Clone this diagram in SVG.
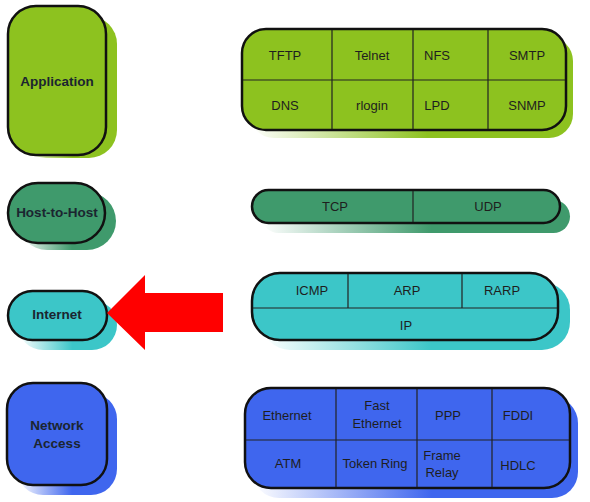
<svg xmlns="http://www.w3.org/2000/svg" width="590" height="502" viewBox="0 0 590 502">
<style>
.box{stroke:#111;stroke-width:2.5}
.div{stroke:#222;stroke-width:1.2;fill:none}
.lbl{font-family:"Liberation Sans",Arial,sans-serif;font-weight:bold;font-size:13.5px;fill:#1b2530;text-anchor:middle}
.p{font-family:"Liberation Sans",Arial,sans-serif;font-size:13px;fill:#1e1e1e;text-anchor:middle}
.g{fill:#8dc21f}.dg{fill:#3f9a6c}.t{fill:#3cc6c8}.b{fill:#3f66ee}
</style>
<defs>
<linearGradient id="sg" x1="0" y1="0" x2="1" y2="0"><stop offset="0" stop-color="#ffffff"/><stop offset="0.55" stop-color="#8dc21f"/></linearGradient>
<linearGradient id="sdg" x1="0" y1="0" x2="1" y2="0"><stop offset="0" stop-color="#ffffff"/><stop offset="0.55" stop-color="#3f9a6c"/></linearGradient>
<linearGradient id="st" x1="0" y1="0" x2="1" y2="0"><stop offset="0" stop-color="#ffffff"/><stop offset="0.55" stop-color="#3cc6c8"/></linearGradient>
<linearGradient id="sb" x1="0" y1="0" x2="1" y2="0"><stop offset="0" stop-color="#ffffff"/><stop offset="0.55" stop-color="#3f66ee"/></linearGradient>
</defs>
<rect width="590" height="502" fill="#ffffff"/>

<g id="application">
<rect x="18" y="16" width="99" height="142" rx="28" fill="url(#sg)"/>
<rect class="box g" x="8" y="6" width="98" height="149" rx="28"/>
<text class="lbl" x="57" y="86">Application</text>
</g>

<g id="app-protocols">
<rect x="250" y="37" width="323" height="101" rx="24" fill="url(#sg)"/>
<rect class="box g" x="242" y="29" width="324" height="101" rx="24"/>
<path class="div" d="M243 80H565M332 30V129M413 30V129M488 30V129"/>
<text class="p" x="285" y="60">TFTP</text><text class="p" x="372" y="60">Telnet</text><text class="p" x="437" y="60">NFS</text><text class="p" x="527" y="60">SMTP</text>
<text class="p" x="285" y="110">DNS</text><text class="p" x="372" y="110">rlogin</text><text class="p" x="437" y="110">LPD</text><text class="p" x="527" y="110">SNMP</text>
</g>

<g id="host-to-host">
<rect x="18" y="192" width="98" height="58" rx="29" fill="url(#sdg)"/>
<rect class="box dg" x="8" y="183" width="97" height="60" rx="30"/>
<text class="lbl" x="57" y="217">Host-to-Host</text>
</g>

<g id="transport-protocols">
<rect x="262" y="200" width="308" height="33" rx="16.5" fill="url(#sdg)"/>
<rect class="box dg" x="252" y="190" width="308" height="33" rx="16.5"/>
<path class="div" d="M413 191V222"/>
<text class="p" x="335" y="211">TCP</text><text class="p" x="488" y="211">UDP</text>
</g>

<g id="internet">
<rect x="18" y="300" width="99" height="50" rx="25" fill="url(#st)"/>
<rect class="box t" x="8" y="291" width="99" height="49" rx="24.5"/>
<text class="lbl" x="57" y="319">Internet</text>
</g>

<g id="internet-protocols">
<rect x="262" y="282" width="308" height="68" rx="28" fill="url(#st)"/>
<rect class="box t" x="252" y="273" width="306" height="67" rx="28"/>
<path class="div" d="M253 308H557M348 274V308M462 274V308"/>
<text class="p" x="312" y="295">ICMP</text><text class="p" x="407" y="295">ARP</text><text class="p" x="502" y="295">RARP</text>
<text class="p" x="406" y="330">IP</text>
</g>

<g id="network-access">
<rect x="17" y="393" width="100" height="102" rx="26" fill="url(#sb)"/>
<rect class="box b" x="7" y="383" width="100" height="102" rx="26"/>
<text class="lbl" x="57" y="430">Network</text>
<text class="lbl" x="57" y="448">Access</text>
</g>

<g id="network-protocols">
<rect x="253" y="397" width="325" height="101" rx="26" fill="url(#sb)"/>
<rect class="box b" x="245" y="388" width="325" height="100" rx="26"/>
<path class="div" d="M246 440H569M336 389V487M417 389V487M492 389V487"/>
<text class="p" x="287" y="420">Ethernet</text>
<text class="p" x="377" y="410">Fast</text><text class="p" x="377" y="428">Ethernet</text>
<text class="p" x="448" y="420">PPP</text><text class="p" x="518" y="420">FDDI</text>
<text class="p" x="288" y="468">ATM</text><text class="p" x="375" y="468">Token Ring</text>
<text class="p" x="442" y="460">Frame</text><text class="p" x="442" y="477">Relay</text>
<text class="p" x="518" y="470">HDLC</text>
</g>

<g id="connectors">
<polygon points="107,313 145,275 145,293 223,293 223,332 145,332 145,350" fill="#ff0000"/>
</g>
</svg>
